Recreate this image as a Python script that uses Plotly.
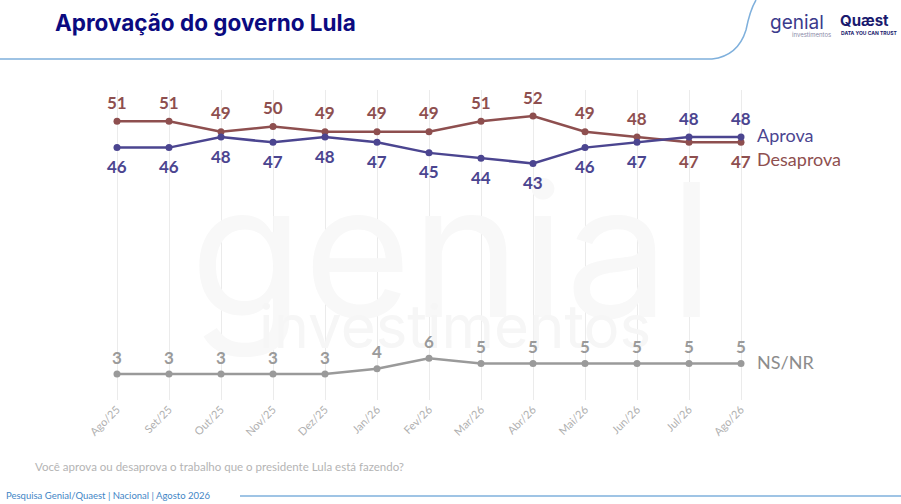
import plotly.graph_objects as go

# dados
meses = ["Ago/25", "Set/25", "Out/25", "Nov/25", "Dez/25", "Jan/26", "Fev/26",
         "Mar/26", "Abr/26", "Mai/26", "Jun/26", "Jul/26", "Ago/26"]
aprova = [46, 46, 48, 47, 48, 47, 45, 44, 43, 46, 47, 48, 48]
desaprova = [51, 51, 49, 50, 49, 49, 49, 51, 52, 49, 48, 47, 47]
nsnr = [3, 3, 3, 3, 3, 4, 6, 5, 5, 5, 5, 5, 5]

AZUL = "#4b4590"
MARROM = "#8e4f4f"
CINZA = "#9a9a9a"
FONTE = "Lato"

# area do grafico em pixels (janela 901x504)
L, R, T, B = 65, 41, 90, 104
W, H = 901 - L - R, 504 - T - B


def px(x, y):
    # pixel -> coordenada paper
    return (x - L) / W, (504 - B - y) / H


def texto(xp, yp, s, fonte, xanchor="left"):
    xx, yy = px(xp, yp)
    fig.add_annotation(xref="paper", yref="paper", x=xx, y=yy, text=s,
                       showarrow=False, xanchor=xanchor, yanchor="middle",
                       font=fonte)


x = list(range(len(meses)))
fig = go.Figure()

# marca d'agua
texto(452, 250, "genial", dict(size=185, color="#f8f8f8", family="Inter"), "center")
texto(455, 326, "investimentos", dict(size=60, color="#f6f6f6", family="Inter"), "center")

for vals, cor in [(nsnr, CINZA), (desaprova, MARROM), (aprova, AZUL)]:
    fig.add_trace(go.Scatter(
        x=x, y=vals, mode="lines+markers",
        line=dict(color=cor, width=2.5),
        marker=dict(color=cor, size=7),
        hoverinfo="skip", showlegend=False,
    ))

# rotulos dos pontos
for i in x:
    a_cima = aprova[i] > desaprova[i]
    fig.add_annotation(x=i, y=aprova[i], text=str(aprova[i]), showarrow=False,
                       yshift=19 if a_cima else -19,
                       font=dict(color=AZUL, size=17, family=FONTE, weight="bold"))
    fig.add_annotation(x=i, y=desaprova[i], text=str(desaprova[i]), showarrow=False,
                       yshift=-19 if a_cima else 19,
                       font=dict(color=MARROM, size=17, family=FONTE, weight="bold"))
    fig.add_annotation(x=i, y=nsnr[i], text=str(nsnr[i]), showarrow=False,
                       yshift=17,
                       font=dict(color=CINZA, size=17, family=FONTE, weight="bold"))

# nomes das series
ult = len(meses) - 1
for nome, v, cor, dy in [("Aprova", aprova[ult], AZUL, 2),
                         ("Desaprova", desaprova[ult], MARROM, -17),
                         ("NS/NR", nsnr[ult], "#8c8c8c", 1)]:
    fig.add_annotation(x=ult, y=v, text=nome, showarrow=False, xanchor="left",
                       yanchor="middle", xshift=14, yshift=dy,
                       font=dict(color=cor, size=18, family=FONTE))

# titulo
texto(53, 22, "Aprovação do governo Lula",
      dict(size=22.5, color="#0b0a80", family="Inter", weight="bold"))

# logos
texto(768, 22, "genial", dict(size=19, color="#3b3b8c", family="Inter"))
texto(790, 35, "investimentos", dict(size=6, color="#8a8aa8", family="Inter"))
texto(838, 21, "Quæst", dict(size=15, color="#1a1a6e", family="Inter", weight="bold"))
texto(839, 33, "DATA YOU CAN TRUST", dict(size=5, color="#1a1a6e", family="Inter", weight="bold"))

# rodape
texto(33, 466, "Você aprova ou desaprova o trabalho que o presidente Lula está fazendo?",
      dict(size=11.5, color="#b4b4b4", family=FONTE))
texto(4, 496, "Pesquisa Genial/Quaest | Nacional | Agosto 2026",
      dict(size=9.5, color="#3f86c6", family=FONTE))

# linhas decorativas
a = px(0, 59); b = px(712, 59); c = px(738, 56); e = px(746, 30); d = px(756, 0)
fig.add_shape(type="path", xref="paper", yref="paper",
              path=f"M {a[0]},{a[1]} L {b[0]},{b[1]} Q {c[0]},{c[1]} {e[0]},{e[1]} Q {px(750, 10)[0]},{px(750, 10)[1]} {d[0]},{d[1]}",
              line=dict(color="#7fb0dc", width=1.5))
f1 = px(240, 496); f2 = px(901, 496)
fig.add_shape(type="line", xref="paper", yref="paper",
              x0=f1[0], y0=f1[1], x1=f2[0], y1=f2[1],
              line=dict(color="#7fb0dc", width=1.5))

fig.update_xaxes(range=[(L - 117) / 52, (901 - R - 117) / 52],
                 tickmode="array", tickvals=x, ticktext=meses, tickangle=-45,
                 showgrid=True, gridcolor="#ebebeb", gridwidth=1,
                 zeroline=False, showline=False,
                 tickfont=dict(size=11, color="#b0b0b0", family=FONTE))
fig.update_yaxes(range=[3 - 26 / 5.265, 3 + 284 / 5.265], visible=False)

fig.update_layout(
    width=901, height=504,
    margin=dict(l=L, r=R, t=T, b=B),
    plot_bgcolor="rgba(0,0,0,0)", paper_bgcolor="white",
)

fig.write_html("out.html", config={"displayModeBar": False},
               post_script="document.body.style.margin='0';")
